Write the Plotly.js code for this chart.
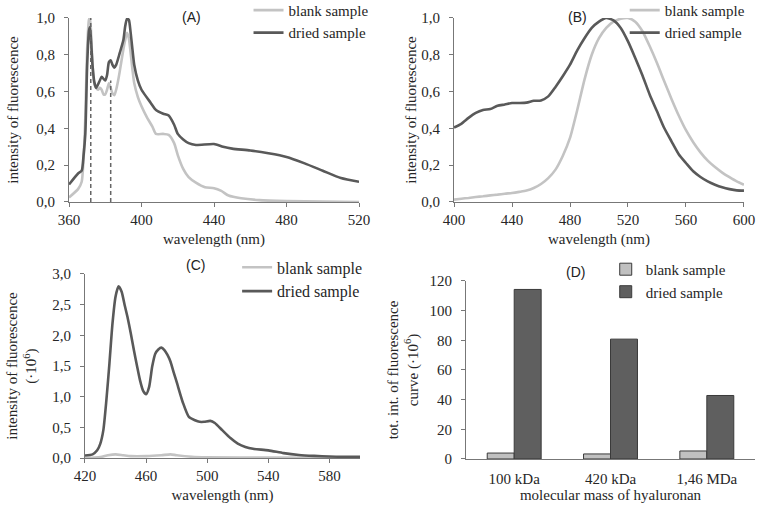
<!DOCTYPE html>
<html>
<head>
<meta charset="utf-8">
<script src="https://cdn.plot.ly/plotly-3.0.1.min.js"></script>
<style>html,body{margin:0;padding:0;background:#fff}#chart{width:760px;height:511px}</style>
</head>
<body>
<div id="chart"></div>
<script>
// ---- Panel A data ----
const aDriedX = [360,365,367,368,369,370,371,371.5,372,373,374,375,377,378,380,381,382,383,384,385,386,388,390,391,392,393,394,395,396,398,400,405,408,412,415,418,420,423,426,430,440,445,450,460,470,480,490,500,510,520];
const aDriedY = [0.095,0.155,0.17,0.25,0.37,0.74,0.93,0.95,0.9,0.74,0.65,0.62,0.66,0.68,0.66,0.69,0.76,0.77,0.745,0.73,0.745,0.81,0.88,0.955,0.996,0.99,0.92,0.83,0.745,0.66,0.61,0.54,0.50,0.48,0.47,0.42,0.37,0.34,0.32,0.31,0.315,0.30,0.29,0.28,0.265,0.245,0.21,0.17,0.13,0.11];
const aBlankX = [360,365,367,368,369,370,371,371.5,372,373,374,375,376,377,378,379,380,381,382,383,384,385,386,387,388,390,391,392,393,394,395,396,398,400,403,406,408,412,415,418,420,423,426,430,435,440,444,448,455,465,480,500,520];
const aBlankY = [0.025,0.07,0.11,0.23,0.46,0.83,0.99,1.0,0.95,0.74,0.64,0.62,0.61,0.62,0.61,0.585,0.585,0.61,0.645,0.62,0.59,0.58,0.61,0.655,0.71,0.83,0.88,0.92,0.89,0.81,0.72,0.645,0.57,0.52,0.46,0.41,0.37,0.37,0.365,0.32,0.255,0.18,0.135,0.105,0.08,0.075,0.06,0.035,0.02,0.01,0.005,0.002,0.0];
const aMarkX = [372,383];
const aMarkTop = [1.0,0.66];

// ---- Panel B data ----
const bX = [400,405,410,415,420,425,430,435,440,445,450,455,460,465,470,475,480,485,490,495,500,505,510,515,520,525,530,535,540,545,550,555,560,565,570,575,580,585,590,595,600];
const bDriedY = [0.405,0.425,0.457,0.484,0.50,0.505,0.523,0.53,0.538,0.538,0.54,0.55,0.552,0.574,0.625,0.683,0.746,0.824,0.89,0.946,0.98,1.0,0.987,0.946,0.873,0.783,0.687,0.583,0.493,0.402,0.33,0.26,0.212,0.167,0.136,0.112,0.094,0.08,0.07,0.063,0.062];
const bBlankY = [0.013,0.018,0.022,0.027,0.031,0.036,0.04,0.045,0.049,0.055,0.062,0.076,0.098,0.13,0.176,0.25,0.348,0.50,0.665,0.80,0.89,0.946,0.98,0.996,1.0,0.98,0.928,0.846,0.755,0.656,0.56,0.47,0.39,0.325,0.27,0.225,0.19,0.16,0.135,0.112,0.094];

// ---- Panel C data ----
const cDriedX = [420,425,428,430,432,434,436,438,440,442,444,446,448,450,452,454,456,458,460,462,464,466,468,470,472,474,476,478,480,484,488,492,495,498,502,505,510,515,520,525,530,540,550,560,570,580,600];
const cDriedY = [0.04,0.06,0.125,0.23,0.45,0.94,1.54,2.19,2.63,2.80,2.71,2.49,2.28,2.03,1.76,1.51,1.27,1.10,1.04,1.16,1.49,1.70,1.77,1.80,1.76,1.68,1.57,1.40,1.24,0.91,0.67,0.615,0.59,0.59,0.605,0.57,0.45,0.33,0.235,0.18,0.15,0.125,0.08,0.05,0.035,0.025,0.018];
const cBlankX = [420,430,435,440,445,450,460,470,476,480,490,500,540,600];
const cBlankY = [0.0,0.015,0.045,0.06,0.045,0.03,0.03,0.045,0.06,0.045,0.02,0.012,0.006,0.005];

// ---- Panel D data ----
const dCats = ["100 kDa","420 kDa","1,46 MDa"];
const dBlank = [4.0,3.4,5.4];
const dDried = [114.3,80.8,42.8];

const LIGHT = "#c3c3c3";
const DARK = "#595959";
const SERIF = "'Liberation Serif', 'Times New Roman', serif";
const SANS = "'Liberation Sans', Arial, sans-serif";
const TXT = "#262626";

const traces = [
  {x:aBlankX, y:aBlankY, type:"scatter", mode:"lines", name:"blank sample", line:{color:LIGHT,width:2.6,shape:"spline",smoothing:0.6}, xaxis:"x", yaxis:"y", legend:"legend"},
  {x:aDriedX, y:aDriedY, type:"scatter", mode:"lines", name:"dried sample", line:{color:DARK,width:2.6,shape:"spline",smoothing:0.6}, xaxis:"x", yaxis:"y", legend:"legend"},
];
for (let i=0;i<aMarkX.length;i++){
  traces.push({x:[aMarkX[i],aMarkX[i]], y:[0,aMarkTop[i]], type:"scatter", mode:"lines", showlegend:false, hoverinfo:"skip", line:{color:"#666",width:1.5,dash:"4px,3px"}, xaxis:"x", yaxis:"y"});
}
traces.push(
  {x:bX, y:bBlankY, type:"scatter", mode:"lines", name:"blank sample", line:{color:LIGHT,width:2.6,shape:"spline",smoothing:0.6}, xaxis:"x2", yaxis:"y2", legend:"legend2"},
  {x:bX, y:bDriedY, type:"scatter", mode:"lines", name:"dried sample", line:{color:DARK,width:2.6,shape:"spline",smoothing:0.6}, xaxis:"x2", yaxis:"y2", legend:"legend2"},
  {x:cBlankX, y:cBlankY, type:"scatter", mode:"lines", name:"blank sample", line:{color:LIGHT,width:2.6,shape:"spline",smoothing:0.6}, xaxis:"x3", yaxis:"y3", legend:"legend3"},
  {x:cDriedX, y:cDriedY, type:"scatter", mode:"lines", name:"dried sample", line:{color:DARK,width:2.6,shape:"spline",smoothing:0.6}, xaxis:"x3", yaxis:"y3", legend:"legend3"},
  {x:dCats, y:dBlank, type:"bar", name:"blank sample", marker:{color:"#c0c0c0",line:{color:"#3a3a3a",width:1}}, xaxis:"x4", yaxis:"y4", legend:"legend4"},
  {x:dCats, y:dDried, type:"bar", name:"dried sample", marker:{color:"#5f5f5f",line:{color:"#3a3a3a",width:1}}, xaxis:"x4", yaxis:"y4", legend:"legend4"}
);

const FS = 15;
function xa(domain, range, dtick, anchor, title, standoff){
  return {domain, range, dtick, tick0:range[0], anchor, showgrid:false, zeroline:false, showline:true, linecolor:"#777", linewidth:1,
    ticks:"outside", ticklen:4, tickcolor:"#777", tickfont:{family:SERIF,size:FS,color:TXT},
    title:{text:title, font:{family:SERIF,size:FS,color:TXT}, standoff}};
}
function ya(domain, range, dtick, anchor, title, fmt, standoff){
  return {domain, range, dtick, tick0:0, anchor, showgrid:false, zeroline:false, showline:true, linecolor:"#777", linewidth:1,
    ticks:"outside", ticklen:4, tickcolor:"#777", ticklabelstandoff:6, tickformat:fmt, tickfont:{family:SERIF,size:FS,color:TXT},
    title:{text:title, font:{family:SERIF,size:FS,color:TXT}, standoff}};
}
function leg(x, y, size){
  return {x, y, xanchor:"left", yanchor:"top", bgcolor:"rgba(0,0,0,0)", font:{family:SERIF,size:size,color:TXT}, tracegroupgap:0, itemwidth:30, traceorder:"normal"};
}

const layout = {
  width:760, height:511, margin:{l:0,r:0,t:0,b:0,autoexpand:false}, paper_bgcolor:"#fff", plot_bgcolor:"rgba(0,0,0,0)",
  separators:", ", showlegend:true,
  xaxis: xa([0.0908,0.4724],[360,520],40,"y","wavelength (nm)",6),
  yaxis: ya([0.6047,0.9648],[0,1.0],0.2,"x","intensity of fluorescence",".1f",13),
  xaxis2: xa([0.5974,0.9789],[400,600],40,"y2","wavelength (nm)",6),
  yaxis2: ya([0.6047,0.9648],[0,1.0],0.2,"x2","intensity of fluorescence",".1f",1),
  xaxis3: xa([0.1118,0.4737],[420,600],40,"y3","wavelength (nm)",6),
  yaxis3: ya([0.1037,0.4638],[0,3.0],0.5,"x3","intensity of fluorescence<br>(·10<sup>6</sup>)",".1f",11),
  xaxis4: {domain:[0.6132,0.9934], anchor:"y4", type:"category", showgrid:false, zeroline:false, showline:true, linecolor:"#777", linewidth:1,
    ticks:"", ticklabelstandoff:6, tickfont:{family:SERIF,size:FS,color:TXT}, title:{text:"molecular mass of hyaluronan", font:{family:SERIF,size:FS,color:TXT}, standoff:0}},
  yaxis4: ya([0.1018,0.4501],[0,120],20,"x4","tot. int. of fluorescence<br>curve (·10<sup>6</sup>)","d",7),
  barmode:"group", bargap:0.44, bargroupgap:0,
  legend: leg(0.327,1.012,15),
  legend2: leg(0.822,1.012,15),
  legend3: leg(0.312,0.51,16),
  legend4: leg(0.797,0.505,15),
  annotations:[
    {text:"(A)", x:191/760, y:1-17/511, xref:"paper", yref:"paper", xanchor:"center", yanchor:"middle", showarrow:false, font:{family:SANS,size:14,color:"#222"}},
    {text:"(B)", x:577/760, y:1-17/511, xref:"paper", yref:"paper", xanchor:"center", yanchor:"middle", showarrow:false, font:{family:SANS,size:14,color:"#222"}},
    {text:"(C)", x:195/760, y:1-265/511, xref:"paper", yref:"paper", xanchor:"center", yanchor:"middle", showarrow:false, font:{family:SANS,size:14,color:"#222"}},
    {text:"(D)", x:575/760, y:1-272/511, xref:"paper", yref:"paper", xanchor:"center", yanchor:"middle", showarrow:false, font:{family:SANS,size:14,color:"#222"}}
  ]
};
Plotly.newPlot("chart", traces, layout, {staticPlot:true, displayModeBar:false});
</script>
</body>
</html>
